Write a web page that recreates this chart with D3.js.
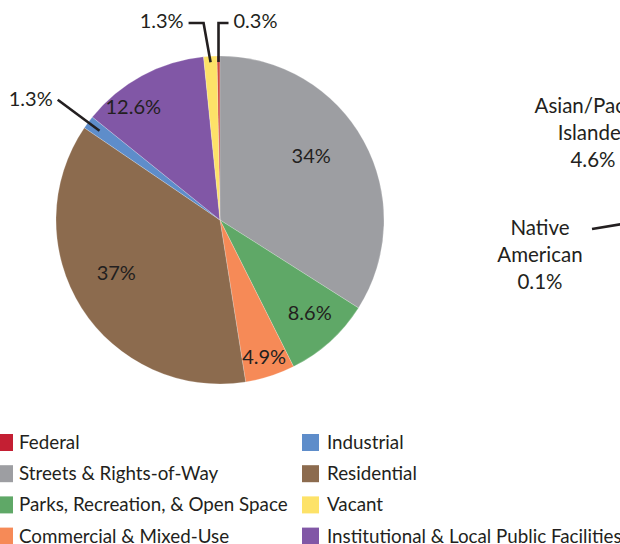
<!DOCTYPE html>
<html><head><meta charset="utf-8">
<script src="https://cdn.jsdelivr.net/npm/d3@7"></script>
<style>
html,body{margin:0;padding:0;background:#fff;}
svg{display:block;}
text{font-family:Lato,"Open Sans",sans-serif;fill:#231f20;font-weight:400;}
</style></head>
<body>
<svg id="c" width="620" height="544"></svg>
<script>
// ---- data ----
const categories = ["Federal","Streets & Rights-of-Way","Parks, Recreation, & Open Space","Commercial & Mixed-Use","Residential","Industrial","Institutional & Local Public Facilities","Vacant"];
const values = [0.3, 34, 8.6, 4.9, 37, 1.3, 12.6, 1.3];
const valueLabels = ["0.3%","34%","8.6%","4.9%","37%","1.3%","12.6%","1.3%"];
const legendOrder = ["Federal","Streets & Rights-of-Way","Parks, Recreation, & Open Space","Commercial & Mixed-Use","Industrial","Residential","Vacant","Institutional & Local Public Facilities"];
// partially visible neighbouring chart (labels only)
const sideLabels = [["Asian/Pacific","Islander","4.6%"],["Native","American","0.1%"]];

// ---- styles ----
const colors = {
  "Federal":"#c41f33",
  "Streets & Rights-of-Way":"#9d9ea2",
  "Parks, Recreation, & Open Space":"#5fa867",
  "Commercial & Mixed-Use":"#f68a57",
  "Residential":"#8c6b4e",
  "Industrial":"#5e8dca",
  "Vacant":"#fde268",
  "Institutional & Local Public Facilities":"#8157a6"
};
const sliceColorOverride = {"Federal":"#cf4c43"};

const svg = d3.select("#c");
const cx = 220, cy = 220, R = 164;
const valueFont = 20, legendFont = 18.8, sideFont = 20.5;

const data = categories.map((c,i)=>({cat:c, value:values[i], label:valueLabels[i]}));
const offset = -values[0]/100*2*Math.PI;
const pie = d3.pie().sort(null).value(d=>d.value).startAngle(offset).endAngle(offset+2*Math.PI);
const arcs = pie(data);
const arc = d3.arc().innerRadius(0).outerRadius(R);

const g = svg.append("g").attr("transform",`translate(${cx},${cy})`);
g.selectAll("path").data(arcs).join("path")
  .attr("d",arc)
  .attr("fill",d=>sliceColorOverride[d.data.cat]||colors[d.data.cat])
  .attr("stroke","rgba(255,255,255,0.35)").attr("stroke-width",0.6);

// inside labels: [radius fraction, angle nudge (deg)]
const inside = {
  "Streets & Rights-of-Way":[0.68,-6.3],
  "Parks, Recreation, & Open Space":[0.79,-1.7],
  "Commercial & Mixed-Use":[0.88,0],
  "Residential":[0.71,5.4],
  "Institutional & Local Public Facilities":[0.87,-9]
};
function pt(angle, r){ return [r*Math.sin(angle), -r*Math.cos(angle)]; }
arcs.forEach(a=>{
  const p = inside[a.data.cat];
  if(!p) return;
  const mid = (a.startAngle+a.endAngle)/2 + p[1]*Math.PI/180;
  const [x,y] = pt(mid, p[0]*R);
  g.append("text").attr("x",x).attr("y",y).attr("text-anchor","middle")
    .attr("dy","0.35em").attr("font-size",valueFont).text(a.data.label);
});

// outside labels with leader lines
const outside = {
  "Industrial":{inner:150, outer:202, anchor:"end"},
  "Vacant":{inner:158, elbowY:-197, elbowDx:-7, tail:-15, anchor:"end"},
  "Federal":{inner:158, elbowY:-197, elbowDx:0, tail:10, anchor:"start"}
};
arcs.forEach(a=>{
  const o = outside[a.data.cat];
  if(!o) return;
  let mid = (a.startAngle+a.endAngle)/2;
  const p0 = pt(mid, o.inner);
  let pts, tx, ty;
  if(o.outer){
    const p1 = pt(mid, o.outer);
    pts = [p0,p1];
    tx = p1[0]-5; ty = p1[1]-1;
  } else {
    const e = [p0[0]+o.elbowDx, o.elbowY];
    const t = [e[0]+o.tail, o.elbowY];
    pts = [p0,e,t];
    tx = t[0] + (o.anchor==="end"?-5:5); ty = o.elbowY-2;
  }
  g.append("path").attr("d",d3.line()(pts)).attr("fill","none")
    .attr("stroke","#231f20").attr("stroke-width",2.6);
  g.append("text").attr("x",tx).attr("y",ty).attr("text-anchor",o.anchor)
    .attr("dy","0.35em").attr("font-size",valueFont).text(a.data.label);
});

// legend
const legend = svg.append("g");
const colX = [-4, 302], textX = [19, 327], rowY0 = 442.5, rowH = 31.2, sw = 17;
legendOrder.forEach((c,i)=>{
  const col = Math.floor(i/4), row = i%4;
  const y = rowY0 + row*rowH;
  legend.append("rect").attr("x",colX[col]).attr("y",y-sw/2).attr("width",sw).attr("height",sw)
    .attr("fill",colors[c]);
  legend.append("text").attr("x",textX[col]).attr("y",y).attr("dy","0.35em")
    .attr("font-size",legendFont).text(c);
});

// neighbouring chart labels (cut off at the right edge)
const side = svg.append("g");
const sidePos = [[593,106],[540,228]];
sideLabels.forEach((lines,k)=>{
  const t = side.append("text").attr("text-anchor","middle").attr("font-size",sideFont);
  lines.forEach((s,j)=>{
    t.append("tspan").attr("x",sidePos[k][0]).attr("y",sidePos[k][1]+j*27).attr("dy","0.35em").text(s);
  });
});
side.append("path").attr("d",d3.line()([[592,229],[622,224]])).attr("stroke","#231f20")
  .attr("stroke-width",2.6).attr("fill","none");
</script>
</body></html>
